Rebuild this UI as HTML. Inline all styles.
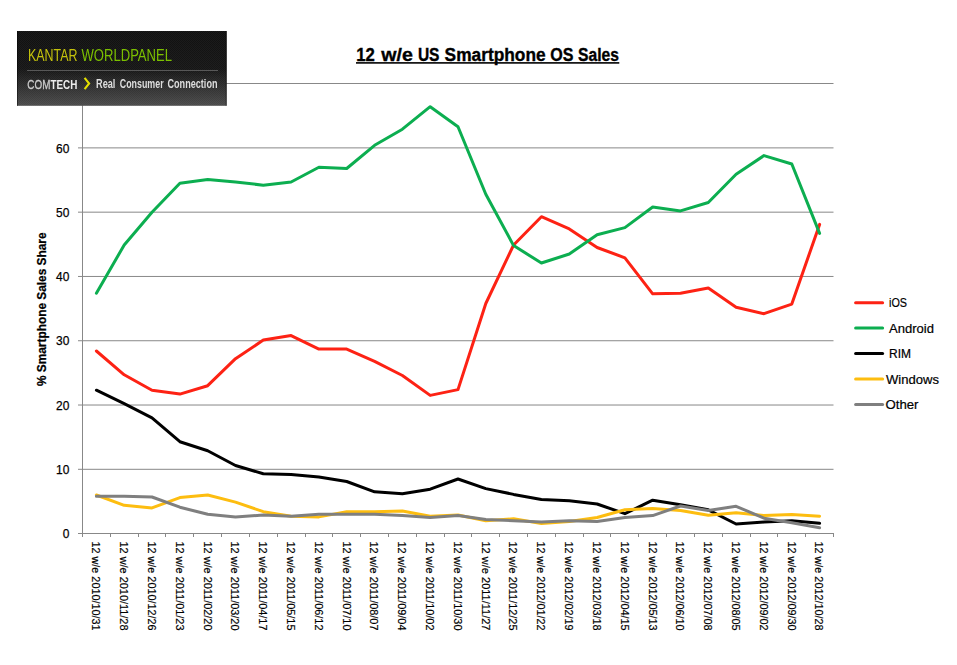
<!DOCTYPE html>
<html lang="en"><head><meta charset="utf-8"><title>12 w/e US Smartphone OS Sales</title>
<style>html,body{margin:0;padding:0;background:#fff;}body{width:957px;height:665px;overflow:hidden;}svg{display:block;}text{font-family:"Liberation Sans",sans-serif;}</style>
</head><body>
<svg width="957" height="665" viewBox="0 0 957 665">
<defs>
<linearGradient id="lg" x1="0" y1="0" x2="0" y2="1"><stop offset="0" stop-color="#111111"/><stop offset="0.5" stop-color="#161616"/><stop offset="1" stop-color="#4b4b4b"/></linearGradient>
<pattern id="stripe" width="2" height="2" patternUnits="userSpaceOnUse"><rect x="1" y="0" width="1" height="1" fill="#ffffff" fill-opacity="0.035"/><rect x="0" y="1" width="1" height="1" fill="#ffffff" fill-opacity="0.035"/></pattern>
<filter id="noop" x="0" y="0" width="957" height="665" filterUnits="userSpaceOnUse" color-interpolation-filters="sRGB"><feOffset dx="0" dy="0"/></filter>
</defs>
<rect width="957" height="665" fill="#ffffff"/>
<g stroke="#888888" stroke-width="1">
<line x1="82.5" y1="469.31" x2="833.5" y2="469.31"/>
<line x1="82.5" y1="405.03" x2="833.5" y2="405.03"/>
<line x1="82.5" y1="340.74" x2="833.5" y2="340.74"/>
<line x1="82.5" y1="276.46" x2="833.5" y2="276.46"/>
<line x1="82.5" y1="212.17" x2="833.5" y2="212.17"/>
<line x1="82.5" y1="147.89" x2="833.5" y2="147.89"/>
<line x1="82.5" y1="83.50" x2="833.5" y2="83.50"/>
</g>
<g stroke="#888888" stroke-width="1">
<line x1="82.5" y1="83" x2="82.5" y2="533.5"/>
<line x1="78.0" y1="533.5" x2="834.0" y2="533.5"/>
<line x1="78.0" y1="469.31" x2="82.5" y2="469.31"/>
<line x1="78.0" y1="405.03" x2="82.5" y2="405.03"/>
<line x1="78.0" y1="340.74" x2="82.5" y2="340.74"/>
<line x1="78.0" y1="276.46" x2="82.5" y2="276.46"/>
<line x1="78.0" y1="212.17" x2="82.5" y2="212.17"/>
<line x1="78.0" y1="147.89" x2="82.5" y2="147.89"/>
<line x1="78.0" y1="83.50" x2="82.5" y2="83.50"/>
<line x1="82.5" y1="533.5" x2="82.5" y2="537.0"/>
<line x1="110.5" y1="533.5" x2="110.5" y2="537.0"/>
<line x1="138.5" y1="533.5" x2="138.5" y2="537.0"/>
<line x1="165.5" y1="533.5" x2="165.5" y2="537.0"/>
<line x1="193.5" y1="533.5" x2="193.5" y2="537.0"/>
<line x1="221.5" y1="533.5" x2="221.5" y2="537.0"/>
<line x1="249.5" y1="533.5" x2="249.5" y2="537.0"/>
<line x1="277.5" y1="533.5" x2="277.5" y2="537.0"/>
<line x1="305.5" y1="533.5" x2="305.5" y2="537.0"/>
<line x1="332.5" y1="533.5" x2="332.5" y2="537.0"/>
<line x1="360.5" y1="533.5" x2="360.5" y2="537.0"/>
<line x1="388.5" y1="533.5" x2="388.5" y2="537.0"/>
<line x1="416.5" y1="533.5" x2="416.5" y2="537.0"/>
<line x1="444.5" y1="533.5" x2="444.5" y2="537.0"/>
<line x1="471.5" y1="533.5" x2="471.5" y2="537.0"/>
<line x1="499.5" y1="533.5" x2="499.5" y2="537.0"/>
<line x1="527.5" y1="533.5" x2="527.5" y2="537.0"/>
<line x1="555.5" y1="533.5" x2="555.5" y2="537.0"/>
<line x1="583.5" y1="533.5" x2="583.5" y2="537.0"/>
<line x1="610.5" y1="533.5" x2="610.5" y2="537.0"/>
<line x1="638.5" y1="533.5" x2="638.5" y2="537.0"/>
<line x1="666.5" y1="533.5" x2="666.5" y2="537.0"/>
<line x1="694.5" y1="533.5" x2="694.5" y2="537.0"/>
<line x1="722.5" y1="533.5" x2="722.5" y2="537.0"/>
<line x1="750.5" y1="533.5" x2="750.5" y2="537.0"/>
<line x1="777.5" y1="533.5" x2="777.5" y2="537.0"/>
<line x1="805.5" y1="533.5" x2="805.5" y2="537.0"/>
<line x1="833.5" y1="533.5" x2="833.5" y2="537.0"/>
</g>
<g fill="none" stroke-width="3" stroke-linecap="round" stroke-linejoin="round">
<polyline stroke="#fd2214" points="96.4,351.0 124.2,374.8 152.0,390.2 179.9,394.1 207.7,385.7 235.5,358.7 263.3,340.1 291.1,335.6 318.9,349.1 346.7,349.1 374.6,361.3 402.4,375.5 430.2,395.4 458.0,389.6 485.8,303.5 513.6,245.0 541.4,216.7 569.3,228.9 597.1,247.5 624.9,257.8 652.7,293.8 680.5,293.2 708.3,288.0 736.1,307.3 764.0,313.7 791.8,304.1 819.6,224.4"/>
<polyline stroke="#0cae50" points="96.4,293.2 124.2,245.0 152.0,212.2 179.9,183.2 207.7,179.4 235.5,182.0 263.3,185.2 291.1,182.0 318.9,167.2 346.7,168.5 374.6,145.3 402.4,129.2 430.2,106.7 458.0,126.7 485.8,194.2 513.6,245.6 541.4,263.0 569.3,254.0 597.1,234.7 624.9,227.6 652.7,207.0 680.5,210.9 708.3,202.5 736.1,174.2 764.0,155.6 791.8,164.0 819.6,233.4"/>
<polyline stroke="#000000" points="96.4,390.2 124.2,403.7 152.0,417.9 179.9,441.7 207.7,450.7 235.5,465.5 263.3,473.8 291.1,474.5 318.9,477.0 346.7,481.5 374.6,491.8 402.4,493.7 430.2,489.2 458.0,479.0 485.8,488.6 513.6,494.4 541.4,499.5 569.3,500.8 597.1,504.0 624.9,513.7 652.7,500.2 680.5,504.7 708.3,509.8 736.1,524.0 764.0,522.0 791.8,520.7 819.6,523.3"/>
<polyline stroke="#fdbd10" points="96.4,495.0 124.2,505.3 152.0,507.9 179.9,497.6 207.7,495.0 235.5,502.1 263.3,511.7 291.1,516.2 318.9,516.9 346.7,511.7 374.6,511.7 402.4,511.1 430.2,516.2 458.0,515.0 485.8,520.7 513.6,518.8 541.4,523.6 569.3,521.4 597.1,517.5 624.9,509.8 652.7,508.5 680.5,510.5 708.3,515.3 736.1,512.7 764.0,515.6 791.8,514.6 819.6,516.2"/>
<polyline stroke="#7f7f7f" points="96.4,496.3 124.2,496.3 152.0,497.0 179.9,507.2 207.7,514.3 235.5,516.9 263.3,515.0 291.1,516.2 318.9,514.3 346.7,514.3 374.6,514.3 402.4,515.6 430.2,517.5 458.0,515.6 485.8,519.5 513.6,520.7 541.4,522.0 569.3,520.7 597.1,521.4 624.9,517.5 652.7,515.6 680.5,506.0 708.3,510.5 736.1,506.3 764.0,518.2 791.8,522.7 819.6,527.8"/>
</g>
<g font-size="13" fill="#000" stroke="#000" stroke-width="0.25">
<text x="62.75" y="538.2" textLength="6.65" lengthAdjust="spacingAndGlyphs">0</text>
<text x="56.10" y="473.9" textLength="13.3" lengthAdjust="spacingAndGlyphs">10</text>
<text x="56.10" y="409.6" textLength="13.3" lengthAdjust="spacingAndGlyphs">20</text>
<text x="56.10" y="345.3" textLength="13.3" lengthAdjust="spacingAndGlyphs">30</text>
<text x="56.10" y="281.1" textLength="13.3" lengthAdjust="spacingAndGlyphs">40</text>
<text x="56.10" y="216.8" textLength="13.3" lengthAdjust="spacingAndGlyphs">50</text>
<text x="56.10" y="152.5" textLength="13.3" lengthAdjust="spacingAndGlyphs">60</text>
</g>
<text transform="translate(46.4 386) rotate(-90)" font-size="13" font-weight="bold" fill="#000" stroke="#000" stroke-width="0.25" textLength="153.5" lengthAdjust="spacingAndGlyphs">% Smartphone Sales Share</text>
<g font-size="11.5" fill="#000" stroke="#000" stroke-width="0.18">
<text transform="translate(92.2 541.5) rotate(90)" textLength="89" lengthAdjust="spacingAndGlyphs">12 w/e 2010/10/31</text>
<text transform="translate(120.0 541.5) rotate(90)" textLength="89" lengthAdjust="spacingAndGlyphs">12 w/e 2010/11/28</text>
<text transform="translate(147.8 541.5) rotate(90)" textLength="89" lengthAdjust="spacingAndGlyphs">12 w/e 2010/12/26</text>
<text transform="translate(175.7 541.5) rotate(90)" textLength="89" lengthAdjust="spacingAndGlyphs">12 w/e 2011/01/23</text>
<text transform="translate(203.5 541.5) rotate(90)" textLength="89" lengthAdjust="spacingAndGlyphs">12 w/e 2011/02/20</text>
<text transform="translate(231.3 541.5) rotate(90)" textLength="89" lengthAdjust="spacingAndGlyphs">12 w/e 2011/03/20</text>
<text transform="translate(259.1 541.5) rotate(90)" textLength="89" lengthAdjust="spacingAndGlyphs">12 w/e 2011/04/17</text>
<text transform="translate(286.9 541.5) rotate(90)" textLength="89" lengthAdjust="spacingAndGlyphs">12 w/e 2011/05/15</text>
<text transform="translate(314.7 541.5) rotate(90)" textLength="89" lengthAdjust="spacingAndGlyphs">12 w/e 2011/06/12</text>
<text transform="translate(342.5 541.5) rotate(90)" textLength="89" lengthAdjust="spacingAndGlyphs">12 w/e 2011/07/10</text>
<text transform="translate(370.4 541.5) rotate(90)" textLength="89" lengthAdjust="spacingAndGlyphs">12 w/e 2011/08/07</text>
<text transform="translate(398.2 541.5) rotate(90)" textLength="89" lengthAdjust="spacingAndGlyphs">12 w/e 2011/09/04</text>
<text transform="translate(426.0 541.5) rotate(90)" textLength="89" lengthAdjust="spacingAndGlyphs">12 w/e 2011/10/02</text>
<text transform="translate(453.8 541.5) rotate(90)" textLength="89" lengthAdjust="spacingAndGlyphs">12 w/e 2011/10/30</text>
<text transform="translate(481.6 541.5) rotate(90)" textLength="89" lengthAdjust="spacingAndGlyphs">12 w/e 2011/11/27</text>
<text transform="translate(509.4 541.5) rotate(90)" textLength="89" lengthAdjust="spacingAndGlyphs">12 w/e 2011/12/25</text>
<text transform="translate(537.2 541.5) rotate(90)" textLength="89" lengthAdjust="spacingAndGlyphs">12 w/e 2012/01/22</text>
<text transform="translate(565.1 541.5) rotate(90)" textLength="89" lengthAdjust="spacingAndGlyphs">12 w/e 2012/02/19</text>
<text transform="translate(592.9 541.5) rotate(90)" textLength="89" lengthAdjust="spacingAndGlyphs">12 w/e 2012/03/18</text>
<text transform="translate(620.7 541.5) rotate(90)" textLength="89" lengthAdjust="spacingAndGlyphs">12 w/e 2012/04/15</text>
<text transform="translate(648.5 541.5) rotate(90)" textLength="89" lengthAdjust="spacingAndGlyphs">12 w/e 2012/05/13</text>
<text transform="translate(676.3 541.5) rotate(90)" textLength="89" lengthAdjust="spacingAndGlyphs">12 w/e 2012/06/10</text>
<text transform="translate(704.1 541.5) rotate(90)" textLength="89" lengthAdjust="spacingAndGlyphs">12 w/e 2012/07/08</text>
<text transform="translate(731.9 541.5) rotate(90)" textLength="89" lengthAdjust="spacingAndGlyphs">12 w/e 2012/08/05</text>
<text transform="translate(759.8 541.5) rotate(90)" textLength="89" lengthAdjust="spacingAndGlyphs">12 w/e 2012/09/02</text>
<text transform="translate(787.6 541.5) rotate(90)" textLength="89" lengthAdjust="spacingAndGlyphs">12 w/e 2012/09/30</text>
<text transform="translate(815.4 541.5) rotate(90)" textLength="89" lengthAdjust="spacingAndGlyphs">12 w/e 2012/10/28</text>
</g>
<text y="60.7" font-size="18" font-weight="bold" fill="#000" stroke="#000" stroke-width="0.35" xml:space="preserve"><tspan x="356.3" textLength="18.6" lengthAdjust="spacingAndGlyphs">12</tspan> <tspan x="381.2" textLength="31.6" lengthAdjust="spacingAndGlyphs">w/e</tspan> <tspan x="417.9" textLength="21.6" lengthAdjust="spacingAndGlyphs">US</tspan> <tspan x="444.6" textLength="101.0" lengthAdjust="spacingAndGlyphs">Smartphone</tspan> <tspan x="550.2" textLength="23.2" lengthAdjust="spacingAndGlyphs">OS</tspan> <tspan x="578.1" textLength="40.9" lengthAdjust="spacingAndGlyphs">Sales</tspan></text>
<rect x="356" y="62.1" width="263.3" height="1.6" fill="#000"/>
<line x1="855.6" y1="302.7" x2="882.6" y2="302.7" stroke="#fd2214" stroke-width="3" stroke-linecap="round"/>
<text x="889" y="306.5" font-size="12.6" fill="#000" stroke="#000" stroke-width="0.2" textLength="18" lengthAdjust="spacingAndGlyphs">iOS</text>
<line x1="855.6" y1="327.9" x2="882.6" y2="327.9" stroke="#0cae50" stroke-width="3" stroke-linecap="round"/>
<text x="889" y="332.8" font-size="12.6" fill="#000" stroke="#000" stroke-width="0.2" textLength="45" lengthAdjust="spacingAndGlyphs">Android</text>
<line x1="855.6" y1="353.5" x2="882.6" y2="353.5" stroke="#000000" stroke-width="3" stroke-linecap="round"/>
<text x="889" y="357.9" font-size="12.6" fill="#000" stroke="#000" stroke-width="0.2" textLength="22" lengthAdjust="spacingAndGlyphs">RIM</text>
<line x1="855.6" y1="379.1" x2="882.6" y2="379.1" stroke="#fdbd10" stroke-width="3" stroke-linecap="round"/>
<text x="886" y="384.0" font-size="12.6" fill="#000" stroke="#000" stroke-width="0.2" textLength="53" lengthAdjust="spacingAndGlyphs">Windows</text>
<line x1="855.6" y1="404.6" x2="882.6" y2="404.6" stroke="#7f7f7f" stroke-width="3" stroke-linecap="round"/>
<text x="885.5" y="409.1" font-size="12.6" fill="#000" stroke="#000" stroke-width="0.2" textLength="33" lengthAdjust="spacingAndGlyphs">Other</text>
<g filter="url(#noop)">
<rect x="17" y="31" width="209.7" height="74.8" fill="url(#lg)"/>
<rect x="17" y="31" width="209.7" height="74.8" fill="url(#stripe)"/>
<rect x="225.7" y="31" width="1" height="74.8" fill="#000" fill-opacity="0.45"/>
<rect x="17" y="31" width="1" height="74.8" fill="#000" fill-opacity="0.45"/>
<line x1="27" y1="70.5" x2="218" y2="70.5" stroke="#585858" stroke-width="1"/>
<text x="28" y="61.2" font-size="16.3" fill="#c4c20c" textLength="49.5" lengthAdjust="spacingAndGlyphs">KANTAR</text>
<text x="81.5" y="61.2" font-size="16.4" fill="#7cc000" textLength="90.5" lengthAdjust="spacingAndGlyphs">WORLDPANEL</text>
<text x="27.3" y="88.8" font-size="13.4" fill="#cdcdcd" stroke="#cdcdcd" stroke-width="0.3" textLength="50" lengthAdjust="spacingAndGlyphs">COM<tspan font-weight="bold" fill="#ededed" stroke="none">TECH</tspan></text>
<polyline points="84.6,77.9 89.1,83.5 84.6,89.1" fill="none" stroke="#e4e000" stroke-width="2.1"/>
<text y="88.4" font-size="12.3" font-weight="bold" fill="#dedede" xml:space="preserve"><tspan x="96.0" textLength="19.4" lengthAdjust="spacingAndGlyphs">Real</tspan> <tspan x="119.8" textLength="43.8" lengthAdjust="spacingAndGlyphs">Consumer</tspan> <tspan x="167.5" textLength="50.0" lengthAdjust="spacingAndGlyphs">Connection</tspan></text>
</g>
</svg>
</body></html>
